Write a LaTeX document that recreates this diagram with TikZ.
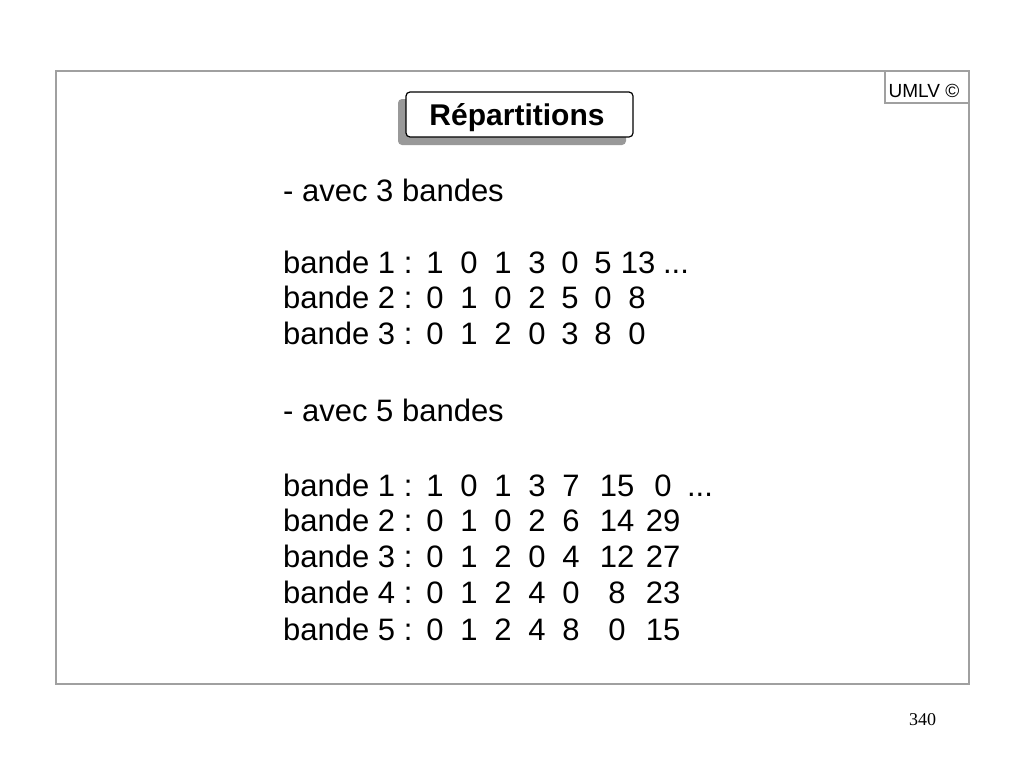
\documentclass[tikz,border=0pt]{standalone}
\usepackage{fontspec}
\setmainfont{Liberation Sans}
\newfontfamily\pnserif{Liberation Serif}
\definecolor{framegray}{HTML}{A0A0A0}
\definecolor{shadowgray}{HTML}{999999}
\begin{document}
\begin{tikzpicture}[x=1pt,y=-1pt,
  body/.style={anchor=base west, inner sep=0pt, font=\fontsize{31}{36}\selectfont},
  num/.style={anchor=base, inner sep=0pt, font=\fontsize{31}{36}\selectfont}]
\useasboundingbox[fill=white] (0,0) rectangle (1024,761);
% frame
\draw[framegray, line width=1.2pt] (56,71) rectangle (969,684);
\draw[framegray, line width=1.2pt] (885,71) rectangle (969,103);
\node[inner sep=0pt, anchor=base, font=\fontsize{19}{22}\selectfont] (umlv) at (924,97) {UMLV \textcopyright};
% title
\fill[shadowgray, rounded corners=4pt] (398,99) rectangle (626,145);
\draw[fill=white, line width=1.2pt, rounded corners=4pt] (406,92) rectangle (633,137);
\node[inner sep=0pt, anchor=base, font=\bfseries\fontsize{30}{34}\selectfont] (title) at (517,125.5) {Répartitions};
% group 1
\node[body] (h1) at (283,201) {- avec 3 bandes};
\node[body] (a1) at (283,273) {bande 1 :};
\node[body] (a2) at (283,308) {bande 2 :};
\node[body] (a3) at (283,344) {bande 3 :};
\foreach \v/\xx [count=\i] in {1/435,0/469,1/503,3/537,0/570,5/603,13/638}
  \node[num] (a1c\i) at (\xx,273) {\v};
\node[num] (a1dots) at (676,273) {...};
\foreach \v/\xx [count=\i] in {0/435,1/469,0/503,2/537,5/570,0/603,8/637}
  \node[num] (a2c\i) at (\xx,308) {\v};
\foreach \v/\xx [count=\i] in {0/435,1/469,2/503,0/537,3/570,8/603,0/637}
  \node[num] (a3c\i) at (\xx,344) {\v};
% group 2
\node[body] (h2) at (283,421) {- avec 5 bandes};
\node[body] (b1) at (283,496) {bande 1 :};
\node[body] (b2) at (283,531) {bande 2 :};
\node[body] (b3) at (283,567) {bande 3 :};
\node[body] (b4) at (283,603) {bande 4 :};
\node[body] (b5) at (283,640) {bande 5 :};
\foreach \v/\xx [count=\i] in {1/435,0/469,1/503,3/537,7/571,15/617,0/663}
  \node[num] (b1c\i) at (\xx,496) {\v};
\node[num] (b1dots) at (700,496) {...};
\foreach \v/\xx [count=\i] in {0/435,1/469,0/503,2/537,6/571,14/617,29/663}
  \node[num] (b2c\i) at (\xx,531) {\v};
\foreach \v/\xx [count=\i] in {0/435,1/469,2/503,0/537,4/571,12/617,27/663}
  \node[num] (b3c\i) at (\xx,567) {\v};
\foreach \v/\xx [count=\i] in {0/435,1/469,2/503,4/537,0/571,8/617,23/663}
  \node[num] (b4c\i) at (\xx,603) {\v};
\foreach \v/\xx [count=\i] in {0/435,1/469,2/503,4/537,8/571,0/617,15/663}
  \node[num] (b5c\i) at (\xx,640) {\v};
% page number
\node[inner sep=0pt, anchor=base, font=\pnserif\fontsize{18}{20}\selectfont] (pn) at (922.5,725) {340};
\end{tikzpicture}
\end{document}
